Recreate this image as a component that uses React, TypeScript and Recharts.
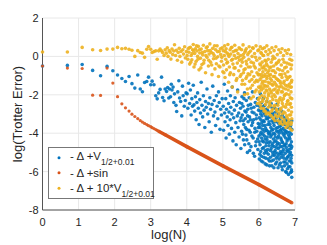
import { ScatterChart, Scatter, XAxis, YAxis, CartesianGrid } from "recharts";

const xTicks = [0, 1, 2, 3, 4, 5, 6, 7];
const yTicks = [-8, -6, -4, -2, 0, 2];

const BLUE = "#0072BD";
const ORANGE = "#D95319";
const YELLOW = "#EDB120";
const FONT = "'Liberation Sans', Arial, sans-serif";

// -Δ + V_{1/2+0.01}
const bluePts: number[][] = [
  [0, -0.5], [0.69, -0.47], [1.1, -0.42], [1.39, -0.73], [1.61, -1.01], [1.79, -0.52], [1.95, -0.75], [2.08, -0.97],
  [2.2, -1.15], [2.3, -1.31], [2.4, -1.05], [2.48, -1.42], [2.56, -1.65], [2.64, -0.97], [2.71, -1.7], [2.77, -1.84],
  [2.83, -1.36], [2.89, -1.31], [2.94, -1.08], [3.0, -1.48], [3.04, -1.29], [3.09, -1.48], [3.14, -2.05], [3.18, -2.21],
  [3.22, -1.9], [3.26, -1.72], [3.3, -1.08], [3.33, -2.14], [3.37, -2.31], [3.4, -1.7],
  [3.44, -1.83], [3.47, -1.62], [3.5, -2.17], [3.52, -1.7], [3.55, -2.1], [3.57, -1.45], [3.59, -1.75], [3.62, -1.6],
  [3.64, -2.4], [3.66, -1.95], [3.7, -2.55], [3.72, -2.87], [3.75, -1.85], [3.78, -1.27], [3.8, -2.17], [3.83, -2.35],
  [3.86, -3.1], [3.88, -1.55], [3.9, -2.05], [3.93, -2.6], [3.96, -2.3], [3.98, -1.9], [4.01, -1.95], [4.03, -2.7], [4.05, -1.4],
  [4.08, -2.45], [4.1, -1.75], [4.12, -3.05], [4.14, -2.2], [4.16, -2.6], [4.18, -1.5], [4.2, -2.52], [4.22, -2.85],
  [4.24, -2.1], [4.26, -3.3], [4.28, -2.4], [4.3, -1.9], [4.32, -2.7], [4.34, -3.55], [4.36, -2.25], [4.38, -2.95],
  [4.4, -1.35], [4.42, -2.55], [4.44, -3.15], [4.46, -2.05], [4.48, -2.8], [4.5, -3.7], [4.52, -2.35], [4.54, -2.65],
  [4.56, -1.7], [4.58, -3.0], [4.6, -2.45], [4.62, -3.4], [4.64, -2.15], [4.66, -2.75], [4.68, -3.95], [4.7, -2.5],
  [4.72, -1.55], [4.74, -3.1], [4.76, -2.3], [4.78, -2.9], [4.8, -3.6], [4.82, -2.05], [4.84, -2.6], [4.86, -3.25],
  [4.88, -1.85], [4.9, -2.4], [4.92, -3.8], [4.94, -2.75], [4.96, -3.05], [4.98, -2.2],
  [5.01, -2.6], [5.02, -3.85], [5.04, -1.45], [5.05, -2.95], [5.06, -3.4], [5.08, -2.2], [5.09, -4.25], [5.1, -2.75],
  [5.12, -3.15], [5.13, -1.8], [5.14, -3.6], [5.16, -2.45], [5.17, -2.9], [5.18, -4.05], [5.2, -3.3], [5.21, -2.05],
  [5.22, -2.65], [5.24, -3.75], [5.25, -3.0], [5.26, -1.6], [5.28, -4.4], [5.29, -2.35], [5.3, -3.2], [5.32, -2.8],
  [5.33, -3.95], [5.34, -2.15], [5.36, -3.45], [5.37, -4.6], [5.38, -2.55], [5.4, -3.1], [5.41, -1.75], [5.42, -3.7],
  [5.44, -2.95], [5.45, -4.2], [5.46, -2.4], [5.48, -3.35], [5.49, -2.7], [5.5, -4.8], [5.52, -3.9], [5.53, -2.1],
  [5.54, -3.05], [5.56, -2.6], [5.57, -4.35], [5.58, -3.55], [5.6, -1.9], [5.61, -2.85], [5.62, -3.25], [5.64, -4.1],
  [5.65, -2.3], [5.66, -3.8], [5.68, -5.0], [5.69, -2.75], [5.7, -3.4], [5.72, -4.55], [5.73, -2.15], [5.74, -3.15],
  [5.76, -3.95], [5.77, -2.5], [5.78, -4.7], [5.8, -3.6], [5.81, -2.9], [5.82, -1.85], [5.84, -4.25], [5.85, -3.3],
  [5.86, -2.65], [5.88, -5.2], [5.89, -3.75], [5.9, -2.4], [5.92, -4.45], [5.93, -3.05], [5.94, -3.9], [5.96, -2.2],
  [5.97, -4.85], [5.98, -3.5], [5.99, -2.8],
  [6.0, -4.15], [6.01, -3.2], [6.01, -5.35], [6.02, -2.6], [6.03, -4.6], [6.03, -3.7], [6.04, -1.95], [6.05, -4.95],
  [6.05, -3.0], [6.06, -3.95], [6.07, -2.4], [6.07, -5.2], [6.08, -3.45], [6.09, -4.4], [6.09, -2.85], [6.1, -3.8],
  [6.11, -5.5], [6.11, -4.05], [6.12, -2.2], [6.13, -3.35], [6.13, -4.75], [6.14, -2.95], [6.15, -3.9], [6.15, -5.05],
  [6.16, -2.55], [6.17, -4.3], [6.17, -3.6], [6.18, -4.9], [6.19, -3.1], [6.19, -5.3], [6.2, -2.75], [6.2, -4.5],
  [6.21, -3.85], [6.22, -5.65], [6.22, -2.35], [6.23, -4.2], [6.24, -3.25], [6.24, -4.85], [6.25, -3.55], [6.26, -5.1],
  [6.26, -2.9], [6.27, -4.0], [6.28, -4.65], [6.28, -3.4], [6.29, -5.45], [6.3, -2.6], [6.3, -3.95],
  [6.31, -4.45], [6.32, -3.15], [6.32, -5.25], [6.33, -3.7], [6.34, -4.8], [6.34, -2.45], [6.35, -4.1], [6.36, -5.7],
  [6.36, -3.35], [6.37, -4.55], [6.38, -2.95], [6.38, -5.0], [6.39, -3.8], [6.4, -4.3], [6.4, -5.4],
  [6.41, -3.05], [6.42, -4.7], [6.42, -3.6], [6.43, -5.15], [6.44, -2.7], [6.44, -4.05], [6.45, -4.9], [6.46, -3.4],
  [6.46, -5.6], [6.47, -4.4], [6.48, -3.2], [6.48, -5.3], [6.49, -3.9], [6.5, -4.6], [6.5, -2.5],
  [6.51, -5.05], [6.52, -3.7], [6.52, -4.25], [6.53, -5.8], [6.54, -3.0], [6.54, -4.8], [6.55, -3.5], [6.56, -5.35],
  [6.56, -4.0], [6.57, -4.55], [6.58, -3.3], [6.58, -5.1], [6.59, -3.85], [6.6, -4.95], [6.6, -5.55],
  [6.61, -3.6], [6.62, -4.35], [6.62, -5.25], [6.63, -2.85], [6.64, -4.7], [6.64, -3.95], [6.65, -5.9], [6.66, -3.4],
  [6.66, -4.5], [6.67, -5.15], [6.68, -3.75], [6.68, -4.85], [6.69, -5.5], [6.7, -4.15], [6.7, -3.2],
  [6.71, -5.7], [6.72, -4.6], [6.72, -3.55], [6.73, -5.05], [6.74, -4.25], [6.74, -6.0], [6.75, -3.9], [6.76, -5.35],
  [6.76, -4.75], [6.77, -3.3], [6.78, -5.6], [6.78, -4.4], [6.79, -5.85], [6.8, -3.7], [6.8, -4.95],
  [6.81, -5.2], [6.82, -4.1], [6.82, -6.15], [6.83, -3.45], [6.84, -4.65], [6.84, -5.45], [6.85, -3.95], [6.86, -5.75],
  [6.86, -4.3], [6.87, -5.0], [6.88, -3.6], [6.88, -6.05], [6.89, -4.8], [6.89, -5.3], [6.9, -4.45], [6.9, -5.9],
  [6.91, -3.8], [6.91, -5.55], [6.91, -6.3],
];

// more of the blue cloud, where it gets dense (large N)
const blueDense: number[][] = [
  [5.505, -3.2], [5.525, -2.45], [5.545, -4.05], [5.565, -3.35], [5.585, -2.2], [5.605, -4.6], [5.625, -3.7], [5.645, -2.9],
  [5.665, -4.35], [5.685, -3.1], [5.705, -2.55], [5.725, -3.85], [5.745, -4.9], [5.765, -3.3], [5.785, -2.7], [5.805, -4.15],
  [5.825, -3.45], [5.845, -5.05], [5.865, -2.95], [5.885, -3.95], [5.905, -4.65], [5.925, -3.25], [5.945, -2.55], [5.965, -4.3],
  [5.985, -3.7],
  [6.005, -4.45], [6.015, -3.55], [6.025, -5.1], [6.035, -2.85], [6.045, -4.05], [6.055, -3.3], [6.065, -5.45], [6.075, -4.25],
  [6.085, -3.1], [6.095, -4.8], [6.105, -3.6], [6.115, -2.6], [6.125, -4.45], [6.135, -5.25], [6.145, -3.4], [6.155, -4.15],
  [6.165, -3.0], [6.175, -5.6], [6.185, -3.75], [6.195, -4.65], [6.205, -3.25], [6.215, -5.0], [6.225, -4.35], [6.235, -2.8],
  [6.245, -3.9], [6.255, -5.35], [6.265, -4.5], [6.275, -3.15], [6.285, -4.05], [6.295, -5.7],
  [6.305, -3.55], [6.315, -4.9], [6.325, -4.2], [6.335, -3.0], [6.345, -5.45], [6.355, -3.85], [6.365, -4.65], [6.375, -2.7],
  [6.385, -5.15], [6.395, -3.45], [6.405, -4.0], [6.415, -5.8], [6.425, -4.45], [6.435, -3.3], [6.445, -5.0], [6.455, -4.2],
  [6.465, -2.9], [6.475, -3.75], [6.485, -4.75], [6.495, -5.5],
  [6.505, -3.4], [6.515, -4.5], [6.525, -5.2], [6.535, -3.9], [6.545, -4.15], [6.555, -2.75], [6.565, -5.65], [6.575, -3.65],
  [6.585, -4.7], [6.595, -3.15], [6.605, -4.25], [6.615, -5.05], [6.625, -3.8], [6.635, -5.75], [6.645, -4.45], [6.655, -3.05],
  [6.665, -4.95], [6.675, -4.05], [6.685, -3.5], [6.695, -5.3],
  [6.705, -4.65], [6.715, -3.85], [6.725, -5.5], [6.735, -4.0], [6.745, -3.35], [6.755, -4.55], [6.765, -6.05], [6.775, -4.9],
  [6.785, -3.95], [6.795, -5.25], [6.805, -4.3], [6.815, -3.6], [6.825, -5.75], [6.835, -4.85], [6.845, -4.2], [6.855, -5.1],
  [6.865, -3.7], [6.875, -4.6], [6.885, -5.45], [6.895, -4.05], [6.905, -5.15], [6.91, -4.7], [6.91, -3.35], [6.905, -6.0],
];

// -Δ + sin : isolated early points, then the dense tail
const orangePts: number[][] = [
  [0, -0.5], [0.69, -0.61], [1.1, -0.63], [1.39, -2.02], [1.61, -2.03], [1.79, -0.61], [1.95, -1.39], [2.08, -2.1],
  [2.2, -2.47], [2.3, -2.68], [2.4, -2.85], [2.48, -3.01], [2.56, -3.13], [2.64, -3.24], [2.71, -3.34], [2.77, -3.42],
  [2.83, -3.49], [2.89, -3.55], [2.94, -3.61], [3.0, -3.66], [3.04, -3.71], [3.09, -3.76], [3.14, -3.81], [3.18, -3.85],
];
const orangeTail: number[][] = [
  [3.22, -3.9], [3.4, -4.08], [4.0, -4.7], [5.0, -5.7], [6.0, -6.68], [6.91, -7.62],
];

// -Δ + 10*V_{1/2+0.01}
const yellowPts: number[][] = [
  [0, 0.23], [0.69, 0.23], [1.1, 0.47], [1.39, 0.35], [1.61, 0.31], [1.79, 0.38], [1.95, 0.38], [2.08, 0.47],
  [2.2, 0.4], [2.3, 0.42], [2.4, 0.37], [2.48, 0.32], [2.56, 0.0], [2.64, 0.3], [2.71, 0.2], [2.77, 0.17],
  [2.83, -0.05], [2.89, 0.37], [2.94, 0.51], [3.0, 0.37], [3.04, 0.2], [3.09, 0.25], [3.14, 0.29], [3.18, -0.15],
  [3.22, 0.29], [3.26, 0.38], [3.3, 0.29], [3.33, 0.2], [3.37, 0.05], [3.4, 0.35],
  [3.43, 0.17], [3.46, 0.45], [3.48, 0.0], [3.51, 0.3], [3.54, 0.22], [3.56, -0.14], [3.59, 0.38], [3.61, 0.1],
  [3.64, 0.28], [3.66, 0.61], [3.69, 0.05], [3.71, 0.32], [3.74, -0.2], [3.76, 0.2], [3.79, 0.42], [3.81, 0.0],
  [3.84, 0.26], [3.86, -0.3], [3.89, 0.35], [3.91, 0.12], [3.94, 0.5], [3.96, -0.08], [3.99, 0.25], [4.01, 0.05], [4.04, 0.4],
  [4.06, 0.22], [4.08, -0.4], [4.1, 0.48], [4.12, 0.05], [4.14, -0.18], [4.16, 0.35], [4.18, 0.62], [4.2, -0.55],
  [4.22, 0.15], [4.24, 0.4], [4.26, -0.25], [4.28, 0.28], [4.3, 0.0], [4.32, 0.52], [4.34, -0.7], [4.36, 0.18],
  [4.38, -0.1], [4.4, 0.38], [4.42, -0.42], [4.44, 0.08], [4.46, 0.58], [4.48, -0.2], [4.5, 0.25], [4.52, -0.85],
  [4.54, 0.45], [4.56, -0.05], [4.58, 0.3], [4.6, -0.5], [4.62, 0.12], [4.64, 0.65], [4.66, -0.3], [4.68, 0.2],
  [4.7, -0.95], [4.72, 0.42], [4.74, -0.12], [4.76, 0.05], [4.78, -0.65], [4.8, 0.35], [4.82, -0.38], [4.84, 0.55],
  [4.86, -0.02], [4.88, -1.05], [4.9, 0.25], [4.92, -0.55], [4.94, 0.1], [4.96, -0.25], [4.98, 0.45], [5.0, -0.8],
  [5.01, 0.3], [5.02, -0.45], [5.04, 0.05], [5.05, 0.55], [5.06, -1.1], [5.08, -0.15], [5.09, 0.4], [5.1, -0.7],
  [5.12, 0.18], [5.13, -0.3], [5.14, 0.62], [5.16, -1.35], [5.17, 0.0], [5.18, -0.55], [5.2, 0.35], [5.21, -0.85],
  [5.22, 0.12], [5.24, -0.2], [5.25, 0.48], [5.26, -1.6], [5.28, -0.4], [5.29, 0.25], [5.3, -0.95], [5.32, 0.05],
  [5.33, 0.58], [5.34, -0.6], [5.36, -0.1], [5.37, -1.25], [5.38, 0.32], [5.4, -0.35], [5.41, -1.85], [5.42, 0.15],
  [5.44, -0.75], [5.45, 0.45], [5.46, -0.2], [5.48, -1.05], [5.49, 0.05], [5.5, -0.5], [5.52, 0.35], [5.53, -1.45],
  [5.54, -0.3], [5.56, 0.6], [5.57, -0.85], [5.58, -0.05], [5.6, -2.0], [5.61, 0.22], [5.62, -0.65], [5.64, -1.15],
  [5.65, 0.4], [5.66, -0.4], [5.68, -1.7], [5.69, 0.1], [5.7, -0.9], [5.72, -0.15], [5.73, 0.5], [5.74, -1.3],
  [5.76, -0.55], [5.77, 0.28], [5.78, -2.2], [5.8, -0.8], [5.81, 0.0], [5.82, -1.5], [5.84, 0.42], [5.85, -0.35],
  [5.86, -1.05], [5.88, 0.15], [5.89, -1.85], [5.9, -0.6], [5.92, 0.55], [5.93, -1.25], [5.94, -0.2], [5.96, -2.45],
  [5.97, 0.3], [5.98, -0.95], [5.99, -1.6],
  [6.0, 0.35], [6.01, -0.7], [6.01, -1.85], [6.02, -0.1], [6.03, -2.4], [6.03, -1.2], [6.04, 0.5], [6.05, -0.45],
  [6.05, -1.55], [6.06, -2.7], [6.07, 0.15], [6.07, -0.95], [6.08, -2.05], [6.09, -0.3], [6.09, -1.4], [6.1, 0.4],
  [6.11, -0.8], [6.11, -2.25], [6.12, -1.65], [6.13, 0.05], [6.13, -1.05], [6.14, -2.85], [6.15, -0.5], [6.15, 0.45],
  [6.16, -1.9], [6.17, -0.2], [6.17, -1.3], [6.18, -2.5], [6.19, 0.25], [6.19, -0.7], [6.2, -1.75], [6.2, -3.0],
  [6.21, -0.4], [6.22, -1.15], [6.22, 0.55], [6.23, -2.2], [6.24, -0.85], [6.24, -1.55], [6.25, 0.1], [6.26, -2.65],
  [6.26, -0.15], [6.27, -1.95], [6.28, -1.0], [6.28, 0.35], [6.29, -2.95], [6.3, -0.6], [6.3, -1.4],
  [6.31, -2.35], [6.32, 0.2], [6.32, -0.95], [6.33, -1.8], [6.34, -3.1], [6.34, -0.3], [6.35, -1.25], [6.36, 0.45],
  [6.36, -2.1], [6.37, -0.75], [6.38, -2.75], [6.38, -1.5], [6.39, 0.0], [6.4, -1.05], [6.4, -3.25],
  [6.41, -0.5], [6.42, -2.0], [6.42, 0.3], [6.43, -1.35], [6.44, -2.55], [6.44, -0.1], [6.45, -1.7], [6.46, -3.05],
  [6.46, -0.85], [6.47, 0.5], [6.48, -2.3], [6.48, -1.15], [6.49, -0.35], [6.5, -2.85], [6.5, -1.55],
  [6.51, 0.1], [6.52, -1.9], [6.52, -0.65], [6.53, -3.35], [6.54, -1.25], [6.54, -2.4], [6.55, 0.35], [6.56, -0.2],
  [6.56, -2.95], [6.57, -1.6], [6.58, -0.95], [6.58, -3.5], [6.59, -2.15], [6.6, 0.2], [6.6, -1.4],
  [6.61, -2.7], [6.62, -0.45], [6.62, -1.85], [6.63, -3.2], [6.64, 0.4], [6.64, -1.1], [6.65, -2.45], [6.66, -0.75],
  [6.66, -3.55], [6.67, -1.65], [6.68, 0.05], [6.68, -2.2], [6.69, -2.9], [6.7, -1.3], [6.7, -0.3],
  [6.71, -3.4], [6.72, -0.9], [6.72, -2.0], [6.73, 0.3], [6.74, -1.5], [6.74, -2.65], [6.75, -3.7], [6.76, -0.55],
  [6.76, -1.95], [6.77, -3.1], [6.78, 0.15], [6.78, -1.2], [6.79, -2.35], [6.8, -3.6], [6.8, -0.8],
  [6.81, -1.75], [6.82, -2.8], [6.82, 0.35], [6.83, -3.3], [6.84, -0.4], [6.84, -1.45], [6.85, -2.5], [6.86, -3.75],
  [6.86, -1.05], [6.87, -2.15], [6.88, 0.1], [6.88, -3.05], [6.89, -0.65], [6.89, -1.85], [6.9, -2.65], [6.9, -3.45],
  [6.91, -1.25], [6.91, -0.2], [6.91, -3.85],
];

// more of the yellow cloud, where it gets dense
const yellowDense: number[][] = [
  [4.03, -0.15], [4.07, 0.45], [4.11, -0.3], [4.15, 0.15], [4.19, 0.3], [4.23, -0.4], [4.27, 0.55], [4.31, -0.15],
  [4.35, 0.35], [4.39, -0.6], [4.43, 0.2], [4.47, -0.35],
  [4.53, 0.05], [4.57, 0.5], [4.61, -0.2], [4.65, 0.3], [4.69, -0.45], [4.73, 0.15], [4.77, 0.55], [4.81, -0.1],
  [4.85, 0.25], [4.89, -0.5], [4.93, 0.4], [4.97, -0.05], [5.03, -0.85], [5.07, 0.25], [5.11, -0.35], [5.15, 0.1],
  [5.19, -0.95], [5.23, 0.45], [5.27, -0.15], [5.31, -0.6], [5.35, 0.3], [5.39, -1.15], [5.43, -0.05], [5.47, 0.4],
  [5.505, -0.95], [5.525, -0.15], [5.545, -1.25], [5.565, 0.1], [5.585, -0.7], [5.605, -1.45], [5.625, 0.3], [5.645, -0.25],
  [5.665, -1.05], [5.685, -1.95], [5.705, -0.55], [5.725, 0.2], [5.745, -0.95], [5.765, -1.65], [5.785, -0.3], [5.805, -1.2],
  [5.825, 0.45], [5.845, -2.1], [5.865, -0.5], [5.885, -1.35], [5.905, -0.05], [5.925, -1.75], [5.945, -0.85], [5.965, -1.3],
  [5.985, -2.25],
  [6.005, -0.95], [6.015, -2.15], [6.025, -0.4], [6.035, -1.65], [6.045, -2.55], [6.055, 0.2], [6.065, -1.1], [6.075, -1.75],
  [6.085, -0.6], [6.095, -2.35], [6.105, -1.3], [6.115, 0.05], [6.125, -2.7], [6.135, -0.6], [6.145, -1.5], [6.155, -2.1],
  [6.165, -0.95], [6.175, -2.85], [6.185, -1.55], [6.195, -0.25], [6.205, -2.35], [6.215, -1.05], [6.225, -1.8], [6.235, -2.95],
  [6.245, -0.5], [6.255, -1.35], [6.265, -2.05], [6.275, -0.75], [6.285, -2.45], [6.295, -1.7],
  [6.305, -3.05], [6.315, -1.15], [6.325, -2.55], [6.335, -0.55], [6.345, -1.9], [6.355, -2.85], [6.365, -1.45], [6.375, -0.15],
  [6.385, -2.25], [6.395, -3.2], [6.405, -1.75], [6.415, -0.75], [6.425, -2.6], [6.435, -1.05], [6.445, -3.35], [6.455, -2.1],
  [6.465, -1.45], [6.475, -0.4], [6.485, -2.75], [6.495, -1.85],
  [6.505, -3.15], [6.515, -1.2], [6.525, -2.55], [6.535, -0.3], [6.545, -1.75], [6.555, -3.1], [6.565, -2.25], [6.575, -0.7],
  [6.585, -1.3], [6.595, -2.8], [6.605, -3.4], [6.615, -1.55], [6.625, -0.95], [6.635, -2.3], [6.645, -3.0], [6.655, -1.85],
  [6.665, -0.15], [6.675, -2.6], [6.685, -1.4], [6.695, -3.3],
  [6.705, -2.05], [6.715, -0.6], [6.725, -2.95], [6.735, -1.7], [6.745, -3.5], [6.755, -1.05], [6.765, -2.5], [6.775, -0.35],
  [6.785, -3.2], [6.795, -1.55], [6.805, -2.3], [6.815, -3.45], [6.825, -1.1], [6.835, -2.0], [6.845, -3.05], [6.855, -0.15],
  [6.865, -1.6], [6.875, -2.45], [6.885, -3.55], [6.895, -1.35], [6.905, -2.9], [6.905, -0.45], [6.91, -2.2], [6.91, -3.25],
  [6.9, -1.6],
];

const rows = (pts: number[][]) => pts.map(([x, y]) => ({ x, y }));

const dot = (color: string, r: number) => (p: any) => (
  <circle cx={p.cx} cy={p.cy} r={r} fill={color} fillOpacity={0.9} />
);

const YLabel = (props: any) => {
  const vb = props.viewBox;
  const cx = vb.x + 22;
  const cy = vb.y + vb.height / 2;
  return (
    <text x={cx} y={cy} transform={`rotate(-90, ${cx}, ${cy})`} textAnchor="middle" fontSize={13} fontFamily={FONT} fill="#262626">
      log(Trotter Error)
    </text>
  );
};

const XLabel = (props: any) => {
  const vb = props.viewBox;
  return (
    <text x={vb.x + vb.width / 2} y={vb.y + 28.5} textAnchor="middle" fontSize={13} fontFamily={FONT} fill="#262626">
      log(N)
    </text>
  );
};

const legendItems = [
  { color: BLUE, text: "- Δ +V", sub: "1/2+0.01" },
  { color: ORANGE, text: "- Δ +sin", sub: "" },
  { color: YELLOW, text: "- Δ + 10*V", sub: "1/2+0.01" },
];

export default function App() {
  return (
    <div style={{ position: "absolute", left: 0, top: 0, width: 327, height: 245, background: "#fff" }}>
      <ScatterChart width={327} height={245} margin={{ top: 18, right: 32, left: 0, bottom: 0 }}>
        <CartesianGrid stroke="#e8e8e8" strokeWidth={1} />
        <XAxis
          type="number"
          dataKey="x"
          domain={[0, 7]}
          ticks={xTicks}
          height={35}
          tickLine={false}
          tickSize={6}
          tickMargin={2}
          axisLine={{ stroke: "#555" }}
          tick={{ fill: "#262626", fontSize: 11, fontFamily: FONT }}
          label={{ content: XLabel }}
        />
        <YAxis
          type="number"
          dataKey="y"
          domain={[-8, 2]}
          ticks={yTicks}
          width={42.5}
          tickLine={false}
          tickSize={3}
          tickMargin={1}
          axisLine={{ stroke: "#555" }}
          tick={{ fill: "#262626", fontSize: 11, fontFamily: FONT }}
          label={{ content: YLabel }}
        />
        <Scatter data={rows(bluePts.concat(blueDense))} fill={BLUE} shape={dot(BLUE, 1.8)} isAnimationActive={false} />
        <Scatter data={rows(orangePts)} fill={ORANGE} shape={dot(ORANGE, 1.6)} isAnimationActive={false} />
        <Scatter
          data={rows(orangeTail)}
          fill={ORANGE}
          line={{ stroke: ORANGE, strokeWidth: 3.6 }}
          lineType="joint"
          shape={dot(ORANGE, 1.8)}
          isAnimationActive={false}
        />
        <Scatter data={rows(yellowPts.concat(yellowDense))} fill={YELLOW} shape={dot(YELLOW, 1.8)} isAnimationActive={false} />
      </ScatterChart>
      <svg
        width={107}
        height={53}
        style={{ position: "absolute", left: 48, top: 147 }}
        fontFamily={FONT}
      >
        <rect x={0.5} y={0.5} width={105} height={51} fill="#fff" stroke="#777" />
        {legendItems.map((item, i) => {
          const base = [13, 29.5, 44.5][i];
          const cy = [10.7, 25.7, 41.3][i];
          return (
            <g key={item.text}>
              <circle cx={11} cy={cy} r={1.5} fill={item.color} />
              <text x={22} y={base} fontSize={11.5} fill="#262626">
                {item.text}
                {item.sub && (
                  <tspan dy={5} fontSize={8.5}>
                    {item.sub}
                  </tspan>
                )}
              </text>
            </g>
          );
        })}
      </svg>
    </div>
  );
}
